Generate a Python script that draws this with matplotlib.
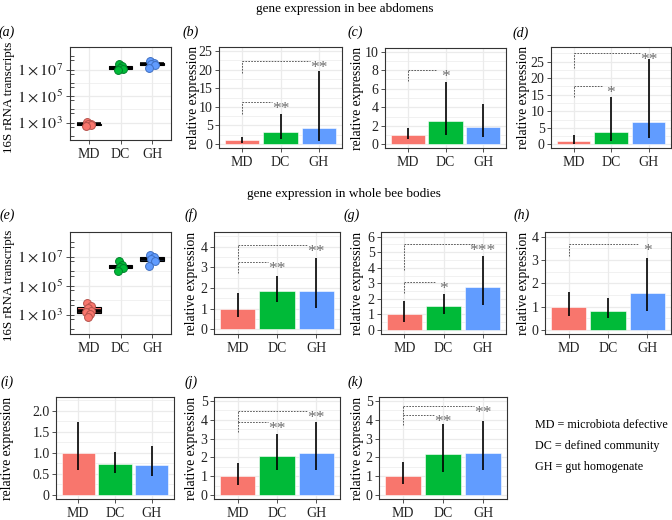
import matplotlib
matplotlib.use("Agg")
import matplotlib.pyplot as plt
import numpy as np

plt.rcParams["font.family"] = ["Liberation Serif", "DejaVu Serif"]
plt.rcParams["mathtext.fontset"] = "stix"

W, H = 672, 520
groups = ["MD", "DC", "GH"]
colors = ["#F8766D", "#00BA38", "#619CFF"]
edge_colors = ["#B5524B", "#00802A", "#3F6FC0"]

# 16S rRNA transcripts, log10 values per bee
abd_md_log = [3.06, 2.92, 2.86, 2.80, 2.76]
abd_dc_log = [7.40, 7.24, 7.10, 7.06, 6.94]
abd_gh_log = [7.61, 7.49, 7.41, 7.33, 7.08]
body_md_log = [3.84, 3.60, 3.45, 3.27, 3.20, 3.05, 2.83]
body_dc_log = [6.68, 6.40, 6.26, 6.20, 5.99]
body_gh_log = [7.10, 6.96, 6.83, 6.70, 6.37]

# relative expression: mean, error low, error high
b_mean = [1.0, 3.1, 4.2]; b_lo = [0.3, 1.25, 0.9]; b_hi = [1.8, 8.1, 19.6]
c_mean = [1.0, 2.55, 1.9]; c_lo = [0.54, 1.0, 0.83]; c_hi = [1.73, 6.76, 4.35]
d_mean = [1.0, 3.7, 6.75]; d_lo = [0.2, 1.1, 1.8]; d_hi = [2.8, 14.4, 25.7]
f_mean = [1.0, 1.85, 1.85]; f_lo = [0.61, 1.34, 1.02]; f_hi = [1.74, 2.58, 3.44]
g_mean = [1.0, 1.54, 2.76]; g_lo = [0.53, 1.03, 1.6]; g_hi = [1.86, 2.31, 4.75]
h_mean = [1.0, 0.8, 1.59]; h_lo = [0.61, 0.5, 0.83]; h_hi = [1.64, 1.36, 3.09]
i_mean = [1.0, 0.73, 0.72]; i_lo = [0.59, 0.53, 0.45]; i_hi = [1.73, 1.02, 1.16]
j_mean = [1.0, 2.08, 2.24]; j_lo = [0.55, 1.35, 1.32]; j_hi = [1.71, 3.26, 3.88]
k_mean = [1.0, 2.16, 2.25]; k_lo = [0.57, 1.22, 1.33]; k_hi = [1.76, 3.76, 3.94]

# significance brackets: (target group, bracket foot, bracket line, stars)
b_sig = [(1, 8.1, 11.2, "**"), (2, 19.2, 22.2, "**")]
c_sig = [(1, 6.8, 8.0, "*")]
d_sig = [(1, 14.4, 17.7, "*"), (2, 23.0, 27.5, "**")]
f_sig = [(1, 2.71, 3.26, "**"), (2, 3.4, 4.08, "**")]
g_sig = [(1, 2.36, 3.06, "*"), (2, 3.85, 5.52, "***")]
h_sig = [(2, 3.19, 3.69, "*")]
i_sig = []
j_sig = [(1, 3.35, 3.88, "**"), (2, 3.9, 4.47, "**")]
k_sig = [(1, 3.7, 4.27, "**"), (2, 4.3, 4.73, "**")]

legend_lines = ["MD = microbiota defective", "DC = defined community", "GH = gut homogenate"]

FS = 10
GRID = "#EBEBEB"
INK = "#333333"

fig = plt.figure(figsize=(W / 100, H / 100), dpi=100)


def px_axes(x0, y0, x1, y1):
    return fig.add_axes([x0 / W, 1 - y1 / H, (x1 - x0) / W, (y1 - y0) / H])


def style(ax):
    for s in ax.spines.values():
        s.set_color(INK); s.set_linewidth(0.8)
    ax.set_axisbelow(True)
    ax.tick_params(axis="both", which="major", length=2.6, width=0.6, color=INK,
                   labelsize=FS, labelcolor="#222222", pad=2)
    ax.tick_params(axis="x", pad=3.5)


def set_groups(ax):
    ax.set_xlim(0.4, 3.6)
    ax.set_xticks(range(1, 4))
    ax.set_xticklabels(groups)
    ax.grid(True, axis="x", color=GRID, lw=0.9)


def box_panel(box, data_logs):
    ax = px_axes(*box)
    style(ax)
    ax.set_yscale("log")
    jit = [-0.06, 0.05, -0.02, 0.08, -0.09, 0.03, -0.04]
    vals = [[10 ** v for v in d] for d in data_logs]
    bp = ax.boxplot(vals, positions=[1, 2, 3], widths=0.75, patch_artist=True,
                    showfliers=False, showcaps=False,
                    medianprops=dict(color="black", lw=2.6),
                    whiskerprops=dict(color="black", lw=0.6),
                    boxprops=dict(color="black", lw=0.8))
    for p, c in zip(bp["boxes"], colors):
        p.set_facecolor(c)
    for i, v in enumerate(vals):
        xs = [i + 1 + jit[k % len(jit)] for k in range(len(v))]
        ax.scatter(xs, v, s=32, color=colors[i], edgecolor=edge_colors[i], lw=0.7, zorder=4)
    set_groups(ax)
    ax.set_ylim(10 ** 1.69, 10 ** 8.15)
    ax.set_yticks([1e3, 1e5, 1e7])
    ax.set_yticklabels([r"$1\times10^{3}$", r"$1\times10^{5}$", r"$1\times10^{7}$"], fontsize=FS + 1.5)
    minor = [10 ** e for e in range(2, 9) if e not in (3, 5, 7)] + [5 * 10 ** e for e in range(1, 9)]
    ax.set_yticks(minor, minor=True)
    ax.yaxis.set_minor_formatter(matplotlib.ticker.NullFormatter())
    ax.tick_params(axis="y", which="major", direction="inout", length=6)
    ax.tick_params(axis="y", which="minor", direction="in", length=3, width=0.6, color=INK)
    for e in (3, 5, 7):
        ax.axhline(10 ** e, color=GRID, lw=0.9, zorder=0)
    for e in (4, 6):
        ax.axhline(10 ** e, color=GRID, lw=0.5, zorder=0)
    return ax


def bar_panel(box, mean, lo, hi, sig, ylim, yticks, ticklabels):
    ax = px_axes(*box)
    style(ax)
    x = np.arange(1, 4)
    ax.bar(x, mean, width=0.9, color=colors, edgecolor="white", lw=0.4, zorder=2)
    ax.vlines(x, lo, hi, color="black", lw=1.2, zorder=3)
    set_groups(ax)
    ax.set_ylim(*ylim)
    ax.set_yticks(yticks)
    ax.set_yticklabels(ticklabels)
    step = yticks[1] - yticks[0]
    for t in yticks:
        ax.axhline(t, color=GRID, lw=0.9, zorder=0)
        ax.axhline(t + step / 2, color=GRID, lw=0.5, zorder=0)
    for tgt, foot, line, stars in sig:
        ax.plot([1, 1], [foot, line], ls=(0, (2, 1.5)), color="#444444", lw=0.6, zorder=4)
        ax.plot([1, tgt + 1 - 0.22], [line, line], ls=(0, (2, 1.5)), color="#444444", lw=0.6, zorder=4)
        ax.annotate(stars, (tgt + 1, line), xytext=(0, -5), textcoords="offset points",
                    ha="center", va="center", fontsize=FS + 2.5, color="#6E6E6E", zorder=5)
    return ax


def ftext(x, y, s, **kw):
    fig.text(x / W, 1 - y / H, s, **kw)


# titles
ftext(345, 9, "gene expression in bee abdomens", ha="center", va="center", fontsize=FS - 0.5)
ftext(344, 194, "gene expression in whole bee bodies", ha="center", va="center", fontsize=FS - 0.5)

# row 1
box_panel((70, 47, 171, 140), [abd_md_log, abd_dc_log, abd_gh_log])
bar_panel((219, 47, 342, 148), b_mean, b_lo, b_hi, b_sig, (-1.1, 26.1),
          [0, 5, 10, 15, 20, 25], ["0", "5", "10", "15", "20", "25"])
bar_panel((385, 48, 506, 148), c_mean, c_lo, c_hi, c_sig, (-0.4, 10.4),
          [0, 2, 4, 6, 8, 10], ["0", "2", "4", "6", "8", "10"])
bar_panel((551, 47, 671, 148), d_mean, d_lo, d_hi, d_sig, (-1.1, 29.4),
          [0, 5, 10, 15, 20, 25], ["0", "5", "10", "15", "20", "25"])

# row 2
box_panel((70, 232, 171, 334), [body_md_log, body_dc_log, body_gh_log])
bar_panel((214, 232, 340, 334), f_mean, f_lo, f_hi, f_sig, (-0.23, 4.71),
          [0, 1, 2, 3, 4], ["0", "1", "2", "3", "4"])
bar_panel((381, 232, 506, 334), g_mean, g_lo, g_hi, g_sig, (-0.26, 6.3),
          [0, 1, 2, 3, 4, 5, 6], ["0", "1", "2", "3", "4", "5", "6"])
bar_panel((545, 232, 671, 334), h_mean, h_lo, h_hi, h_sig, (-0.17, 4.2),
          [0, 1, 2, 3, 4], ["0", "1", "2", "3", "4"])

# row 3
bar_panel((56, 397, 174, 499), i_mean, i_lo, i_hi, i_sig, (-0.095, 2.32),
          [0, 0.5, 1.0, 1.5, 2.0], ["0", "0.5", "1.0", "1.5", "2.0"])
bar_panel((214, 397, 340, 499), j_mean, j_lo, j_hi, j_sig, (-0.2, 5.2),
          [0, 1, 2, 3, 4, 5], ["0", "1", "2", "3", "4", "5"])
bar_panel((379, 397, 507, 499), k_mean, k_lo, k_hi, k_sig, (-0.2, 5.2),
          [0, 1, 2, 3, 4, 5], ["0", "1", "2", "3", "4", "5"])

# panel letters
for lab, x, y in [("(a)", 7, 32), ("(b)", 191, 32), ("(c)", 355, 32), ("(d)", 521, 33),
                  ("(e)", 7, 215), ("(f)", 191, 215), ("(g)", 352, 215), ("(h)", 522, 215),
                  ("(i)", 7, 382), ("(j)", 191, 382), ("(k)", 355, 382)]:
    ftext(x, y, lab, ha="center", va="center", fontsize=FS, style="italic")

# axis titles
for x, yc in [(9, 97), (9, 285)]:
    ftext(x, yc, "16S rRNA transcripts", ha="center", va="center", rotation=90, fontsize=FS - 0.6)
for x, yc in [(193, 97), (357, 98), (523, 97), (192, 283), (357, 283), (523, 283),
              (8, 448), (192, 448), (357, 448)]:
    ftext(x, yc, "relative expression", ha="center", va="center", rotation=90, fontsize=FS - 0.2)

for k, line in enumerate(legend_lines):
    ftext(535, 425 + 21 * k, line, ha="left", va="center", fontsize=FS - 1.3)

fig.savefig("out.png", dpi=100)
